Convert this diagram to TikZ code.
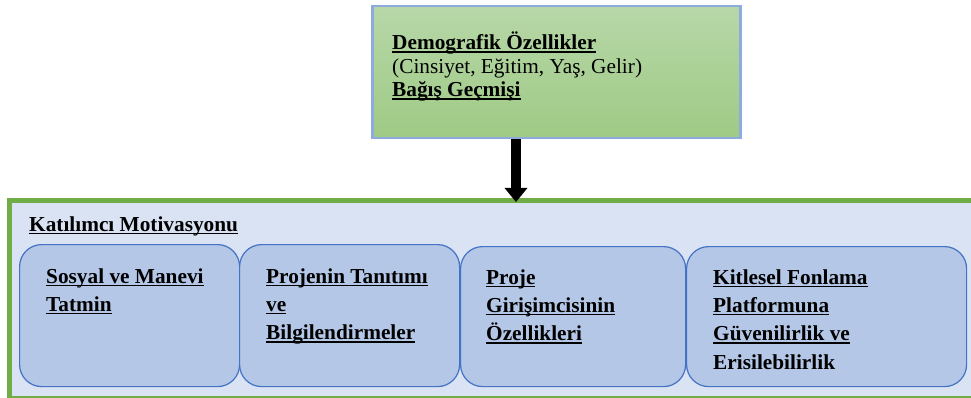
\documentclass[tikz,border=0pt]{standalone}
\usepackage{fontspec}
\setmainfont{Liberation Serif}
\usetikzlibrary{arrows.meta}
\definecolor{kgreen}{HTML}{70AD47}
\definecolor{kfill}{HTML}{DAE3F3}
\definecolor{bfill}{HTML}{B4C7E7}
\definecolor{bdraw}{HTML}{4472C4}
\definecolor{tborder}{HTML}{8FAADC}
\definecolor{ttop}{HTML}{B7D7A8}
\definecolor{tbot}{HTML}{9FCA85}
\newcommand\myul[1]{\setbox0\hbox{#1}\rlap{\rule[-3pt]{\wd0}{1.5pt}}\box0}
\begin{document}
\begin{tikzpicture}[x=1pt,y=-1pt,
  outerbox/.style={draw=kgreen, line width=5pt, fill=kfill, anchor=north west, inner sep=0pt, minimum width=990pt, minimum height=198pt},
  topbox/.style={draw=tborder, line width=2.5pt, top color=ttop, bottom color=tbot, anchor=north west, inner sep=0pt, minimum width=368pt, minimum height=132pt},
  mbox/.style={draw=bdraw, line width=1.2pt, fill=bfill, rounded corners=22pt, anchor=north west, inner sep=0pt, minimum height=142pt},
  txt/.style={anchor=base west, inner sep=0pt, font=\bfseries\fontsize{21.3}{28.4}\selectfont},
  ttxt/.style={anchor=base west, inner sep=0pt, font=\fontsize{21.3}{23.5}\selectfont},
  bigarrow/.style={line width=10pt, -{Triangle[width=22pt,length=14pt]}}]
\useasboundingbox (0,0) rectangle (971,398);
\clip (0,0) rectangle (971,398);
% top box
\node[topbox] (demo) at (371,5) {};
\node[ttxt] (demotext) at (392,50) {\begin{tabular}[t]{@{}l@{}}\textbf{\myul{Demografik Özellikler}}\\(Cinsiyet, Eğitim, Yaş, Gelir)\\\textbf{\myul{Bağış Geçmişi}}\end{tabular}};
% outer box
\node[outerbox] (kat) at (7,197.5) {};
\node[txt] (kattext) at (29,231) {\myul{Katılımcı Motivasyonu}};
% inner boxes
\node[mbox, minimum width=220pt] (b1) at (19,244) {};
\node[mbox, minimum width=220pt] (b2) at (239,244) {};
\node[mbox, minimum width=225pt, minimum height=140pt] (b3) at (460,246) {};
\node[mbox, minimum width=280pt, minimum height=140pt] (b4) at (686,246) {};
\node[txt] (t1) at (46,283) {\begin{tabular}[t]{@{}l@{}}\myul{Sosyal ve Manevi}\\\myul{Tatmin}\end{tabular}};
\node[txt] (t2) at (266,283) {\begin{tabular}[t]{@{}l@{}}\myul{Projenin Tanıtımı}\\\myul{ve}\\\myul{Bilgilendirmeler}\end{tabular}};
\node[txt] (t3) at (486,284) {\begin{tabular}[t]{@{}l@{}}\myul{Proje}\\\myul{Girişimcisinin}\\\myul{Özellikleri}\end{tabular}};
\node[txt] (t4) at (713,284) {\begin{tabular}[t]{@{}l@{}}\myul{Kitlesel Fonlama}\\\myul{Platformuna}\\\myul{Güvenilirlik ve}\\Erisilebilirlik\end{tabular}};
% arrow
\coordinate (ax) at (516,0);
\path (kat.north -| ax) ++(0,4.5) coordinate (tip);
\draw[bigarrow] (demo.south -| ax) -- (tip);
\end{tikzpicture}
\end{document}
